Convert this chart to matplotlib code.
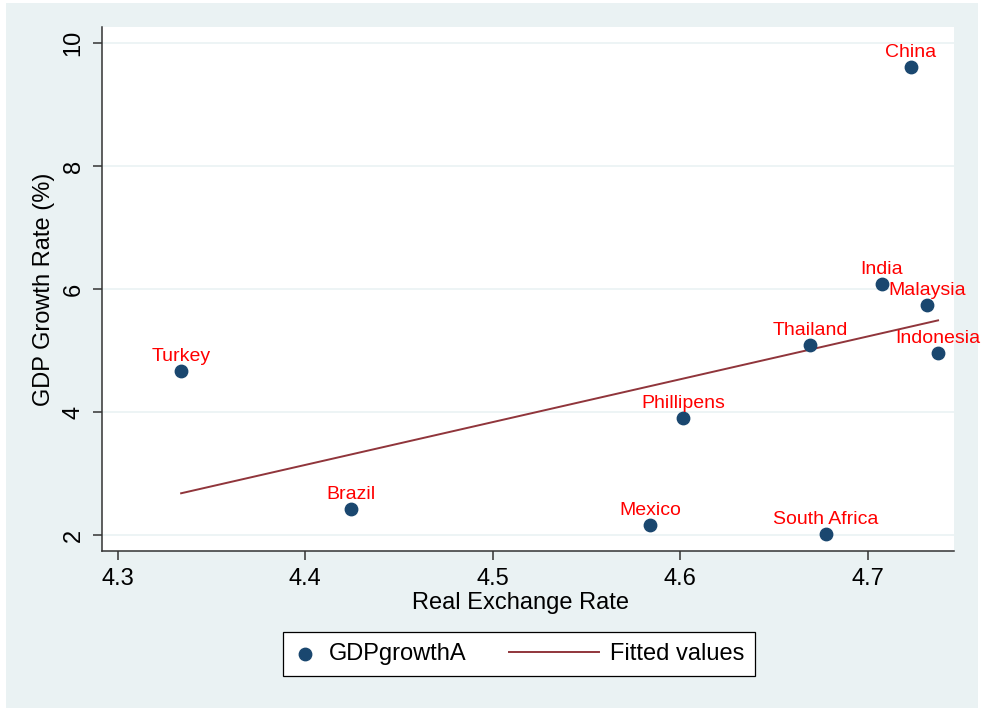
import numpy as np
import matplotlib
matplotlib.use("Agg")
import matplotlib.pyplot as plt
from matplotlib.patches import Rectangle
from matplotlib.legend_handler import HandlerLine2D

plt.rcParams['font.family'] = ['Liberation Sans', 'DejaVu Sans']

# datos
countries = ['China', 'India', 'Malaysia', 'Thailand', 'Indonesia',
             'Turkey', 'Phillipens', 'Brazil', 'Mexico', 'South Africa']
rer = [4.7232, 4.7077, 4.7317, 4.6693, 4.7376,
       4.3339, 4.6016, 4.4245, 4.5840, 4.6779]
gdp_growth = [9.61, 6.08, 5.74, 5.09, 4.96,
              4.67, 3.90, 2.42, 2.16, 2.02]

x_ticks = [4.3, 4.4, 4.5, 4.6, 4.7]
y_ticks = [2, 4, 6, 8, 10]

navy = '#1A476F'
maroon = '#90353B'
bg = '#EAF2F3'

# recta de ajuste (lfit)
x = np.array(rer)
y = np.array(gdp_growth)
b, a = np.polyfit(x, y, 1)
xfit = np.array([x.min(), x.max()])
yfit = a + b * xfit

fig = plt.figure(figsize=(9.82, 7.08), dpi=100, facecolor='white')
fig.patches.append(Rectangle((6 / 982, 0), 972 / 982, 1 - 3 / 708,
                             transform=fig.transFigure, facecolor=bg,
                             edgecolor='none', zorder=-10))

ax = fig.add_axes([102 / 982, 1 - 551 / 708, 852 / 982, 524 / 708])
ax.set_zorder(1)
ax.set_facecolor('white')

ax.scatter(x, y, s=80, color=navy, zorder=3, label='GDPgrowthA')
ax.plot(xfit, yfit, color=maroon, lw=1.4, zorder=2, label='Fitted values')

for name, xi, yi in zip(countries, rer, gdp_growth):
    ax.annotate(name, (xi, yi), xytext=(0, 7), textcoords='offset points',
                ha='center', va='baseline', color='red', fontsize=14,
                annotation_clip=False)

ax.set_xlim(4.2917, 4.7461)
ax.set_ylim(1.74, 10.26)
ax.set_xticks(x_ticks)
ax.set_xticklabels([f'{t:.1f}' for t in x_ticks])
ax.set_yticks(y_ticks)
ax.set_yticklabels([str(t) for t in y_ticks], rotation=90, va='center')

ax.grid(axis='y', color=bg, lw=1.2, zorder=0)
ax.set_axisbelow(True)
for s in ['top', 'right']:
    ax.spines[s].set_visible(False)
for s in ['left', 'bottom']:
    ax.spines[s].set_color('#333333')
    ax.spines[s].set_linewidth(1.1)
ax.tick_params(axis='both', length=6.5, width=1.1, color='#333333',
               labelsize=17, pad=6)

fig.text(520 / 982, 1 - 603 / 708, 'Real Exchange Rate', fontsize=17,
         ha='center', va='center')
fig.text(44.5 / 982, 1 - 289 / 708, 'GDP Growth Rate (%)', fontsize=17,
         rotation=90, ha='center', va='center')


# la linea de la leyenda es mas larga que el hueco del marcador
class LongLine(HandlerLine2D):
    def create_artists(self, legend, orig_handle, xdescent, ydescent,
                       width, height, fontsize, trans):
        ext = 2.8 * fontsize
        return super().create_artists(legend, orig_handle, xdescent + ext,
                                      ydescent, width + ext, height,
                                      fontsize, trans)


handles, labels = ax.get_legend_handles_labels()
line_handle = handles[1]
leg = fig.legend(handles, labels, loc='center',
                 bbox_to_anchor=(519 / 982, 1 - 654 / 708), ncol=2,
                 fontsize=17, frameon=True, fancybox=False,
                 edgecolor='black', framealpha=1, handlelength=1.0,
                 handletextpad=0.5, columnspacing=4.6, borderpad=0.45,
                 scatterpoints=1, handler_map={line_handle: LongLine()})
leg.get_frame().set_linewidth(0.9)

fig.savefig('out.png', dpi=100, facecolor=fig.get_facecolor())
